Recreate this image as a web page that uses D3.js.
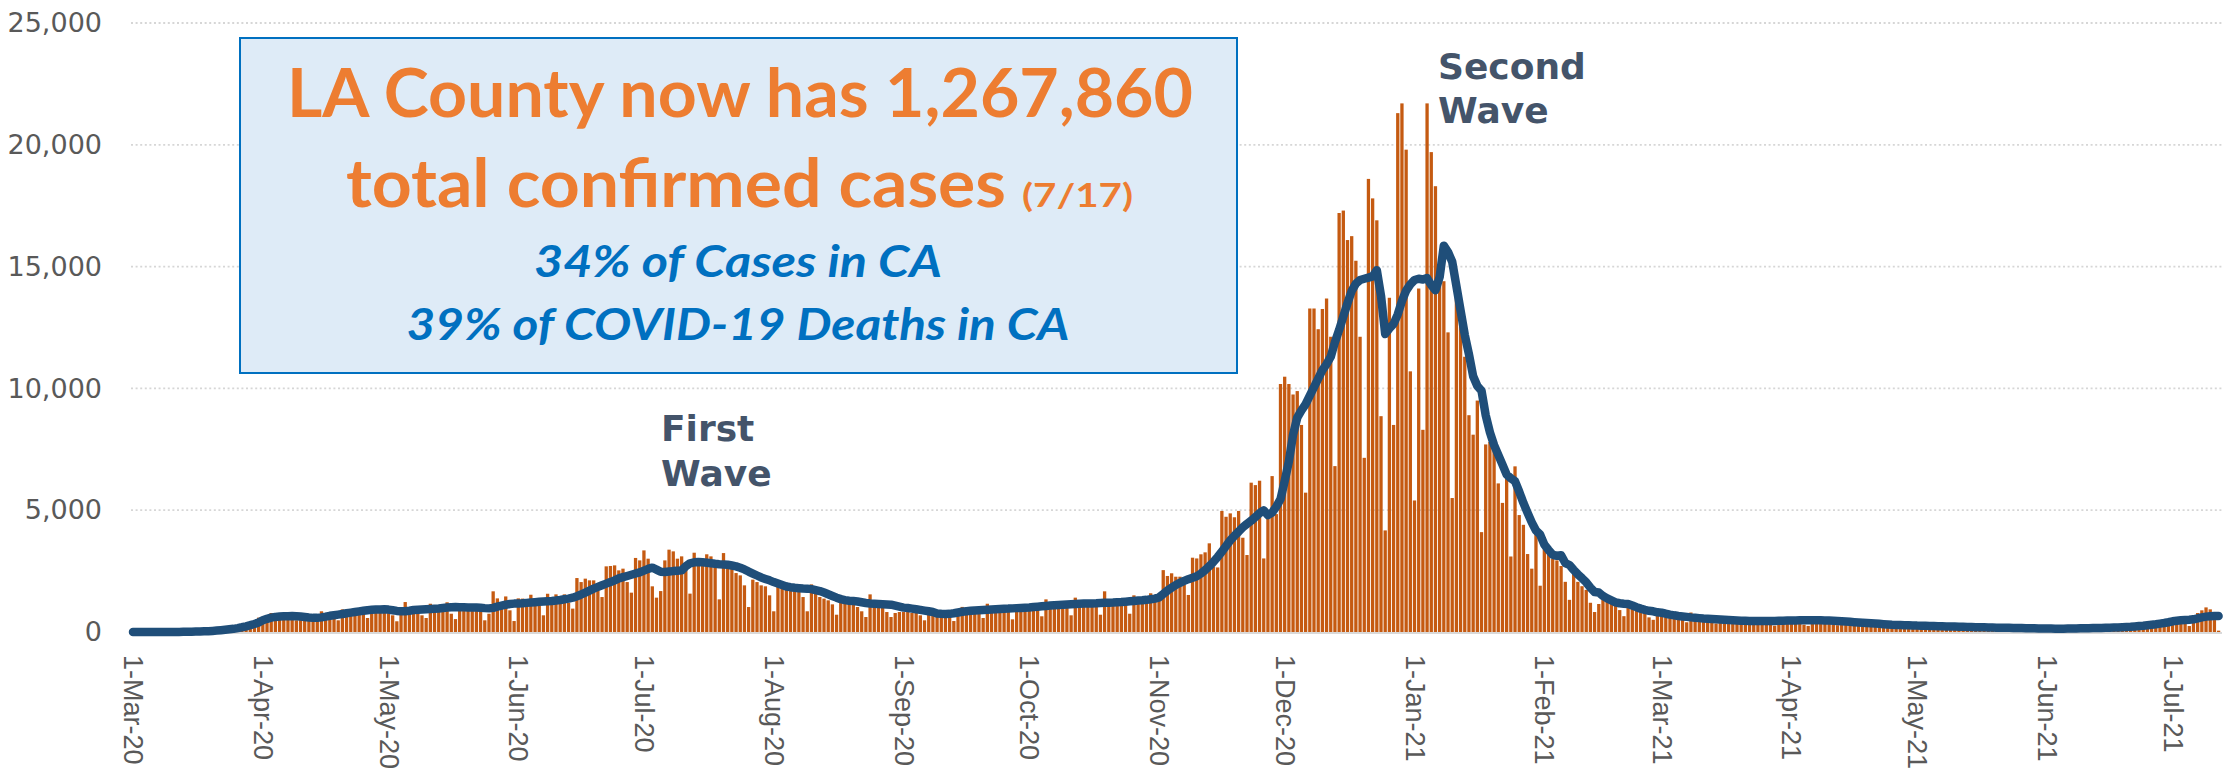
<!DOCTYPE html>
<html lang="en">
<head>
<meta charset="utf-8">
<title>LA County daily cases</title>
<script src="https://d3js.org/d3.v7.min.js"></script>
<style>
  body { margin: 0; background: #ffffff; }
</style>
</head>
<body>
<script type="text/javascript">

// daily new cases, one row per month, starting 1-Mar-20
var dailyCases = [
  0,0,0,1,1,3,1,2,4,4,8,12,13,16,20,30,46,50,60,82,100,120,130,150,170,260,280,300,400,450,590,
  620,540,780,650,560,500,700,620,480,600,520,450,560,640,850,700,790,800,480,930,740,820,970,960,800,575,1050,900,960,1000,
  950,685,440,980,1230,1000,960,1010,685,575,1160,1050,1000,1100,1220,750,530,1135,1050,1120,1090,1000,1030,480,750,1670,1380,1150,1460,890,450,
  1380,1370,1300,1530,1370,1095,685,1570,1400,1545,1450,1545,1200,960,2215,2050,2190,2120,2120,1900,1435,2695,2710,2735,2530,2600,2050,1615,3040,2940,
  3350,3010,1875,1410,1680,2940,3380,3310,3010,3105,2805,1575,3255,2980,2940,3190,3105,2870,1340,3240,2640,2600,2420,2325,1915,1025,2150,2050,1915,1875,1505,
  850,1980,1980,1980,1915,1915,1955,1435,850,1955,1780,1435,1370,1300,1135,710,1505,1410,1410,1165,1025,850,615,1545,1055,1055,985,820,615,780,820,
  820,820,780,780,685,480,750,930,850,700,650,720,450,860,1030,900,880,820,950,575,1160,1000,900,850,1000,980,520,1100,1050,1000,
  1050,1100,950,645,1340,1150,1200,1100,1050,1000,685,1410,1200,1250,1150,1200,1100,710,1670,1300,1350,1200,1150,1100,750,1505,1300,1350,1250,1590,1450,
  1480,2540,2300,2410,2270,2270,1930,1520,3050,3020,3190,3270,3640,2680,2650,4970,4730,4870,4710,4970,3870,3160,6130,6030,6210,3020,4760,6400,4840,10180,
  10480,10180,9750,9890,8500,5720,13280,13280,12430,13260,13690,12120,6810,17200,17300,16090,16250,15240,12120,7150,18600,17800,16900,8860,4170,13720,8500,21300,21700,19800,10700,
  5400,14100,8300,21700,19700,18300,14500,14400,12300,5500,14700,12700,11300,8900,8100,9500,4100,7700,7800,7600,6100,5300,6600,3100,6800,4800,4400,3200,2600,4300,1900,
  3900,3300,3000,2940,2710,2060,1320,2490,2060,1880,1730,1200,820,1150,1500,1400,1300,1200,900,650,1100,1050,950,900,850,600,500,850,
  900,850,800,750,700,500,400,800,700,650,620,600,420,350,620,600,560,540,500,350,300,560,520,500,480,450,320,260,500,480,460,
  450,500,420,300,250,500,480,560,520,450,300,280,520,500,480,450,400,250,220,420,400,380,350,300,200,180,350,330,300,280,
  250,180,150,300,280,260,250,220,150,130,260,250,230,220,200,130,110,230,220,200,190,170,120,100,210,200,190,180,150,100,90,
  110,200,210,200,180,130,110,220,210,200,210,180,130,150,250,260,280,270,220,180,160,300,330,350,380,320,250,230,420,490,
  520,560,575,550,245,685,780,890,1010,930,490,55
];

// 7-day average, same days
var sevenDayAvg = [
  0,0,0,0,1,1,1,2,2,3,4,5,7,9,12,16,22,28,35,45,57,72,90,110,130,160,195,235,280,330,390,
  480,540,590,620,635,645,650,655,650,635,615,595,580,580,600,630,665,690,715,740,770,795,820,845,870,895,910,920,928,932,
  920,895,865,850,855,875,900,915,925,935,945,955,965,985,1005,1020,1025,1020,1015,1010,1010,1005,995,980,970,990,1040,1080,1120,1150,1165,
  1170,1180,1195,1210,1225,1240,1250,1260,1270,1290,1315,1345,1370,1410,1470,1540,1620,1700,1780,1850,1920,1985,2050,2120,2200,2250,2300,2350,2400,2450,
  2520,2590,2640,2560,2470,2460,2480,2500,2515,2530,2700,2820,2860,2870,2860,2840,2820,2800,2785,2775,2760,2730,2695,2640,2570,2480,2400,2320,2240,2180,2120,
  2050,1990,1930,1870,1840,1815,1800,1785,1780,1760,1720,1680,1620,1550,1480,1410,1350,1310,1285,1270,1250,1220,1190,1170,1160,1150,1140,1130,1120,1080,1040,
  1000,985,960,935,910,880,850,820,760,745,740,745,770,800,830,855,870,885,895,905,915,925,935,945,955,960,970,980,990,1000,
  1010,1025,1040,1055,1070,1085,1100,1110,1120,1130,1140,1150,1160,1165,1170,1175,1180,1190,1200,1205,1210,1220,1230,1245,1260,1275,1290,1300,1320,1345,1370,
  1420,1560,1700,1820,1930,2020,2100,2170,2230,2290,2400,2540,2700,2880,3080,3300,3530,3760,3950,4120,4300,4440,4570,4720,4880,4990,4800,4900,5150,5450,
  6200,7000,8100,8800,9100,9350,9700,10050,10400,10750,11000,11300,11900,12400,12950,13500,14000,14300,14450,14500,14550,14600,14850,13800,12230,12460,12650,13040,13590,14010,14270,
  14450,14500,14470,14530,14240,14030,14570,15860,15600,15200,14200,13200,12200,11400,10500,10100,9900,8900,8200,7670,7270,6870,6460,6310,6190,5760,5300,4890,4500,4170,4000,
  3590,3370,3170,3130,3150,2830,2750,2550,2370,2210,2040,1820,1640,1620,1480,1380,1300,1220,1180,1160,1150,1090,1020,960,910,870,850,810,
  790,750,715,685,660,640,620,600,585,570,555,545,535,525,515,505,495,485,475,465,460,455,450,450,450,450,450,455,460,465,470,
  472,475,478,480,482,482,480,478,475,470,465,455,445,432,418,404,390,378,366,355,345,335,322,310,298,290,285,280,275,270,
  262,258,255,250,245,240,235,230,226,222,218,214,210,205,200,195,190,185,180,178,175,172,170,167,164,160,157,154,151,148,145,
  142,140,138,137,138,140,143,146,150,153,156,160,163,166,170,175,180,188,196,205,215,230,245,260,280,300,320,345,370,400,
  440,460,480,490,500,520,560,600,630,650,660,660
];

var firstDay = "2020-03-01";

var monthLabels = ["1-Mar-20","1-Apr-20","1-May-20","1-Jun-20","1-Jul-20","1-Aug-20","1-Sep-20","1-Oct-20",
                   "1-Nov-20","1-Dec-20","1-Jan-21","1-Feb-21","1-Mar-21","1-Apr-21","1-May-21","1-Jun-21","1-Jul-21"];

var yTicks = [0, 5000, 10000, 15000, 20000, 25000];

//canvas
var width = 2234,
    height = 777;

var svg = d3.select("body").append("svg")
  .attr("width", width)
  .attr("height", height)
  .style("font-family", "'Liberation Sans', Arial, sans-serif");

var parseDay = d3.utcParse("%Y-%m-%d"),
    parseLabel = d3.utcParse("%d-%b-%y");

var start = parseDay(firstDay);
var days = dailyCases.map(function(d, i){ return d3.utcDay.offset(start, i); });

var x = d3.scaleUtc()
  .domain([start, days[days.length - 1]])
  .range([133, 2218.6]);

var y = d3.scaleLinear()
  .domain([0, 25000])
  .range([632, 23]);

//gridlines
svg.append("g")
  .selectAll("line")
  .data(yTicks.slice(1))
  .enter().append("line")
  .attr("x1", 131)
  .attr("x2", 2222)
  .attr("y1", function(d){ return y(d); })
  .attr("y2", function(d){ return y(d); })
  .style("stroke", "#d6d6d6")
  .style("stroke-width", 1.8)
  .style("stroke-dasharray", "2,2.6");

//baseline
svg.append("line")
  .attr("x1", 131)
  .attr("x2", 2222)
  .attr("y1", y(0) + 1)
  .attr("y2", y(0) + 1)
  .style("stroke", "#d9d9d9")
  .style("stroke-width", 2.2);

//y labels
var yAxis = svg.append("g")
  .attr("transform", "translate(108,0)")
  .call(d3.axisLeft(y).tickValues(yTicks).tickFormat(d3.format(",")).tickSize(0).tickPadding(6));
yAxis.select(".domain").remove();
yAxis.selectAll("text")
  .style("font-family", "'DejaVu Sans', sans-serif")
  .style("font-size", "27px")
  .style("fill", "#595959");

//x labels, rotated
var xAxis = svg.append("g")
  .attr("transform", "translate(0,655)")
  .call(d3.axisBottom(x)
    .tickValues(monthLabels.map(function(m){ return parseLabel(m); }))
    .tickFormat(d3.utcFormat("%-d-%b-%y"))
    .tickSize(0));
xAxis.select(".domain").remove();
xAxis.selectAll("text")
  .attr("transform", "rotate(90)")
  .attr("x", 0)
  .attr("y", 0)
  .attr("dy", "0.35em")
  .attr("text-anchor", "start")
  .style("font-family", "'Liberation Sans', Arial, sans-serif")
  .style("font-size", "27px")
  .style("fill", "#595959");

//bars
var bw = 3.3;
svg.append("g")
  .selectAll("rect")
  .data(dailyCases)
  .enter().append("rect")
  .attr("x", function(d, i){ return x(days[i]) - bw / 2; })
  .attr("y", function(d){ return y(d); })
  .attr("width", bw)
  .attr("height", function(d){ return y(0) - y(d); })
  .style("fill", "#c55a11");

//7 day average
var avgLine = d3.line()
  .x(function(d, i){ return x(days[i]); })
  .y(function(d){ return y(d); });

svg.append("path")
  .datum(sevenDayAvg)
  .attr("d", avgLine)
  .style("fill", "none")
  .style("stroke", "#1f4e79")
  .style("stroke-width", 8.5)
  .style("stroke-linejoin", "round")
  .style("stroke-linecap", "round");

//text box
svg.append("rect")
  .attr("x", 240)
  .attr("y", 38)
  .attr("width", 997)
  .attr("height", 335)
  .style("fill", "#deebf7")
  .style("stroke", "#0070c0")
  .style("stroke-width", 2);

function boxText(str, cx, by, size, len, color, italic, anchor){
  return svg.append("text")
    .attr("x", cx)
    .attr("y", by)
    .attr("text-anchor", anchor || "middle")
    .attr("textLength", len)
    .attr("lengthAdjust", "spacingAndGlyphs")
    .style("font-family", "Lato, 'Open Sans', sans-serif")
    .style("font-weight", "bold")
    .style("font-style", italic ? "italic" : "normal")
    .style("font-size", size + "px")
    .style("fill", color)
    .text(str);
}

boxText("LA County now has 1,267,860", 740, 117, 66, 906, "#ed7d31");
boxText("total confirmed cases", 346, 207, 66, 660, "#ed7d31", false, "start");
svg.append("text")
  .attr("x", 1022)
  .attr("y", 207)
  .attr("textLength", 111)
  .attr("lengthAdjust", "spacingAndGlyphs")
  .style("font-family", "Lato, 'Open Sans', sans-serif")
  .style("font-weight", "bold")
  .style("font-size", "33px")
  .style("fill", "#ed7d31")
  .text("(7/17)");
boxText("34% of Cases in CA", 738, 277, 43, 408, "#0070c0", true);
boxText("39% of COVID-19 Deaths in CA", 738, 340, 43, 663, "#0070c0", true);

//wave annotations
var waves = [
  {x: 661, y: 441, t: "First"},
  {x: 661, y: 486, t: "Wave"},
  {x: 1438, y: 79, t: "Second"},
  {x: 1438, y: 123, t: "Wave"}
];
svg.append("g")
  .selectAll("text")
  .data(waves)
  .enter().append("text")
  .attr("x", function(d){ return d.x; })
  .attr("y", function(d){ return d.y; })
  .style("font-family", "'DejaVu Sans', sans-serif")
  .style("font-weight", "bold")
  .style("font-size", "36px")
  .style("fill", "#44546a")
  .text(function(d){ return d.t; });

</script>
</body>
</html>
